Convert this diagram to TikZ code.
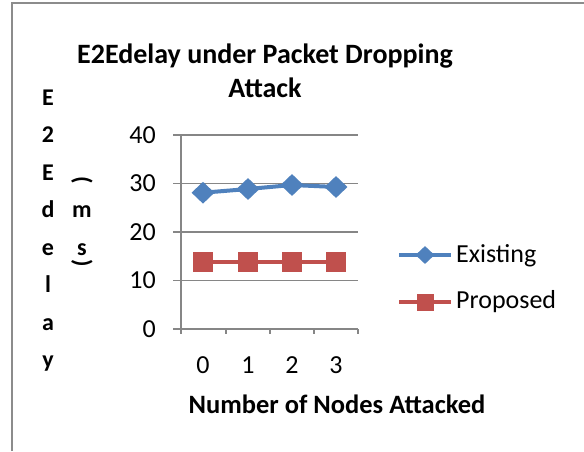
\documentclass[tikz,border=0pt]{standalone}
\usepackage{fontspec}
\setmainfont{Carlito}
\usetikzlibrary{shapes.geometric}
\definecolor{exblue}{HTML}{4F81BD}
\definecolor{prred}{HTML}{C0504D}
\definecolor{gridgray}{HTML}{868686}
\definecolor{framegray}{HTML}{8C8C8C}
\begin{document}
\begin{tikzpicture}[x=1pt,y=-1pt,
  ticklbl/.style={font=\fontsize{26}{30}\selectfont, inner sep=0pt},
  titlelbl/.style={font=\fontsize{28}{32}\selectfont\bfseries, inner sep=0pt, anchor=base},
  axlbl/.style={font=\fontsize{26.5}{30}\selectfont\bfseries, inner sep=0pt, anchor=base},
  stacklbl/.style={font=\fontsize{24}{28}\selectfont\bfseries, inner sep=0pt, anchor=base},
  gridline/.style={gridgray, line width=1.3pt},
  exline/.style={exblue, line width=4pt},
  prline/.style={prred, line width=4pt},
  dmark/.style={shape=diamond, fill=exblue, draw=none, minimum width=23pt, minimum height=22pt, inner sep=0pt},
  smark/.style={shape=rectangle, fill=prred, draw=none, minimum width=20pt, minimum height=20pt, inner sep=0pt},
  ldmark/.style={dmark, minimum width=19pt, minimum height=18pt},
  lsmark/.style={smark, minimum width=17pt, minimum height=17pt}]
\useasboundingbox (0,0) rectangle (584,451);
\fill[white] (0,0) rectangle (584,451);
\draw[framegray, line width=1.5pt] (12,451) -- (12,3) -- (584,3);

% title
\node[titlelbl] (t1) at (265,63) {E2Edelay under Packet Dropping};
\node[titlelbl] (t2) at (265,97) {Attack};

% grid and axes
\foreach \yy in {135,183.5,232,280.5}
  \draw[gridline] (173,\yy) -- (358,\yy);
\draw[gridline] (181,135) -- (181,334);
\draw[gridline] (173,329) -- (358,329);
\foreach \xx in {226,270,314,358}
  \draw[gridline] (\xx,329) -- (\xx,334);

% y tick labels
\node[ticklbl, anchor=east] (y40) at (156,135) {40};
\node[ticklbl, anchor=east] (y30) at (156,183.5) {30};
\node[ticklbl, anchor=east] (y20) at (156,232) {20};
\node[ticklbl, anchor=east] (y10) at (156,280.5) {10};
\node[ticklbl, anchor=east] (y0) at (156,329) {0};

% x tick labels
\node[ticklbl] (x0) at (203,365) {0};
\node[ticklbl] (x1) at (248,365) {1};
\node[ticklbl] (x2) at (292,365) {2};
\node[ticklbl] (x3) at (336,365) {3};

% axis titles
\node[axlbl] (xt) at (337,413) {Number of Nodes Attacked};
\foreach \ch [count=\i from 0] in {E,2,E,d,e,l,a,y}
  \node[stacklbl] (yt\i) at (48,105+37.5*\i) {\ch};
\node[stacklbl, rotate=-90, anchor=center] (po) at (82,180) {(};
\node[stacklbl] (um) at (82,217.5) {m};
\node[stacklbl] (us) at (82,255) {s};
\node[stacklbl, rotate=-90, anchor=center] (pc) at (82,263) {)};

% data
\coordinate (e0) at (203,192.7);
\coordinate (e1) at (248,189);
\coordinate (e2) at (292,185);
\coordinate (e3) at (336,187);
\coordinate (p0) at (203,261.7);
\coordinate (p1) at (248,261.7);
\coordinate (p2) at (292,261.7);
\coordinate (p3) at (336,261.7);
\draw[exline] (e0) -- (e1) -- (e2) -- (e3);
\draw[prline] (p0) -- (p1) -- (p2) -- (p3);
\foreach \i in {0,...,3} {
  \node[dmark] (em\i) at (e\i) {};
  \node[smark] (pm\i) at (p\i) {};
}

% legend
\coordinate (la) at (399,255);
\coordinate (lb) at (451,255);
\coordinate (lc) at (399,302);
\coordinate (ld) at (451,302);
\draw[exline] (la) -- (lb);
\draw[prline] (lc) -- (ld);
\node[ldmark] (lem) at (425,255) {};
\node[lsmark] (lpm) at (425,302) {};
\node[ticklbl, anchor=west] (lex) at (456,256) {Existing};
\node[ticklbl, anchor=west] (lpr) at (456,302) {Proposed};
\end{tikzpicture}
\end{document}
